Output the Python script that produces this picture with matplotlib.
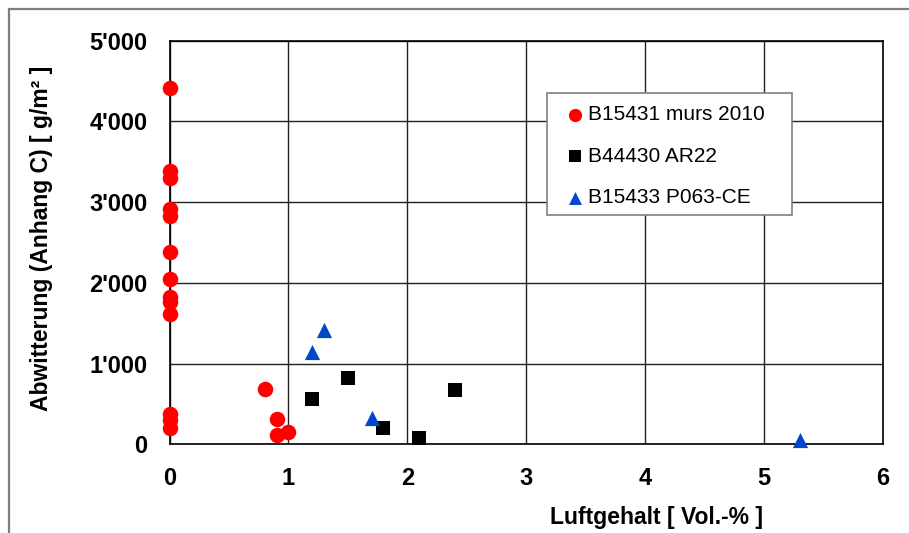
import matplotlib.pyplot as plt
from matplotlib.patches import Rectangle
from matplotlib.ticker import FuncFormatter

plt.rcParams['font.family'] = ['Liberation Sans', 'DejaVu Sans']

# Luftgehalt [Vol.-%] vs. Abwitterung [g/m2]
murs_x = [0, 0, 0, 0, 0, 0, 0, 0, 0, 0, 0, 0, 0, 0.8, 0.9, 0.9, 1.0]
murs_y = [4410, 3390, 3300, 2910, 2830, 2380, 2050, 1830, 1760, 1610,
          380, 300, 200, 680, 310, 120, 150]

ar22_x = [1.2, 1.5, 1.8, 2.1, 2.4]
ar22_y = [560, 820, 200, 75, 670]

p063_x = [1.2, 1.3, 1.7, 5.3]
p063_y = [1140, 1420, 330, 50]

x_ticks = [0, 1, 2, 3, 4, 5, 6]
y_ticks = [0, 1000, 2000, 3000, 4000, 5000]


def thousands(v, pos):
    return f'{int(v):,}'.replace(',', "'")


fig = plt.figure(figsize=(9.09, 5.33), dpi=100)
ax = fig.add_axes([0.1865, 0.1664, 0.7846, 0.7576])

# outer frame of the chart area
fig.patches.append(Rectangle((9 / 909, -0.5), 1.5, 1.5 - 10 / 533 + 0.002,
                             transform=fig.transFigure, fill=False,
                             edgecolor='#7f7f7f', linewidth=1.6, zorder=0))

ax.scatter(murs_x, murs_y, marker='o', s=125, color='#ff0000',
           linewidths=0, label='B15431 murs 2010', zorder=3, clip_on=False)
ax.scatter(ar22_x, ar22_y, marker='s', s=112, color='black',
           linewidths=0, label='B44430 AR22', zorder=3, clip_on=False)
ax.scatter(p063_x, p063_y, marker='^', s=120, color='#0047cc',
           linewidths=0, label='B15433 P063-CE', zorder=3, clip_on=False)

ax.set_xlim(0, 6)
ax.set_ylim(0, 5000)
ax.set_xticks(x_ticks)
ax.set_yticks(y_ticks)
ax.yaxis.set_major_formatter(FuncFormatter(thousands))
ax.tick_params(length=0, pad=16, labelsize=17)
for lbl in ax.get_xticklabels() + ax.get_yticklabels():
    lbl.set_fontweight('bold')

ax.grid(True, color='#222222', linewidth=1.0)
ax.set_axisbelow(True)
for sp in ax.spines.values():
    sp.set_linewidth(1.2)
    sp.set_color('black')

ax.set_xlabel('Luftgehalt [ Vol.-% ]', fontsize=16.5, fontweight='bold')
ax.set_ylabel('Abwitterung (Anhang C) [ g/m² ]', fontsize=16.5, fontweight='bold')
ax.xaxis.set_label_coords(0.683, -0.152)
ax.yaxis.set_label_coords(-0.163, 0.511)

# legend box drawn separately so its padding can be set freely
ax.add_patch(Rectangle((0.5293, 0.568), 0.3435, 0.302, transform=ax.transAxes,
                       facecolor='white', edgecolor='#7f7f7f', linewidth=1.2,
                       zorder=4, clip_on=False))
leg = ax.legend(loc='upper left', bbox_to_anchor=(0.551, 0.840),
                fontsize=15, frameon=False, handletextpad=0.0,
                handlelength=1.2, labelspacing=1.08, borderpad=0,
                borderaxespad=0, markerscale=0.85)
leg.set_zorder(5)

fig.savefig('out.png', dpi=100)
